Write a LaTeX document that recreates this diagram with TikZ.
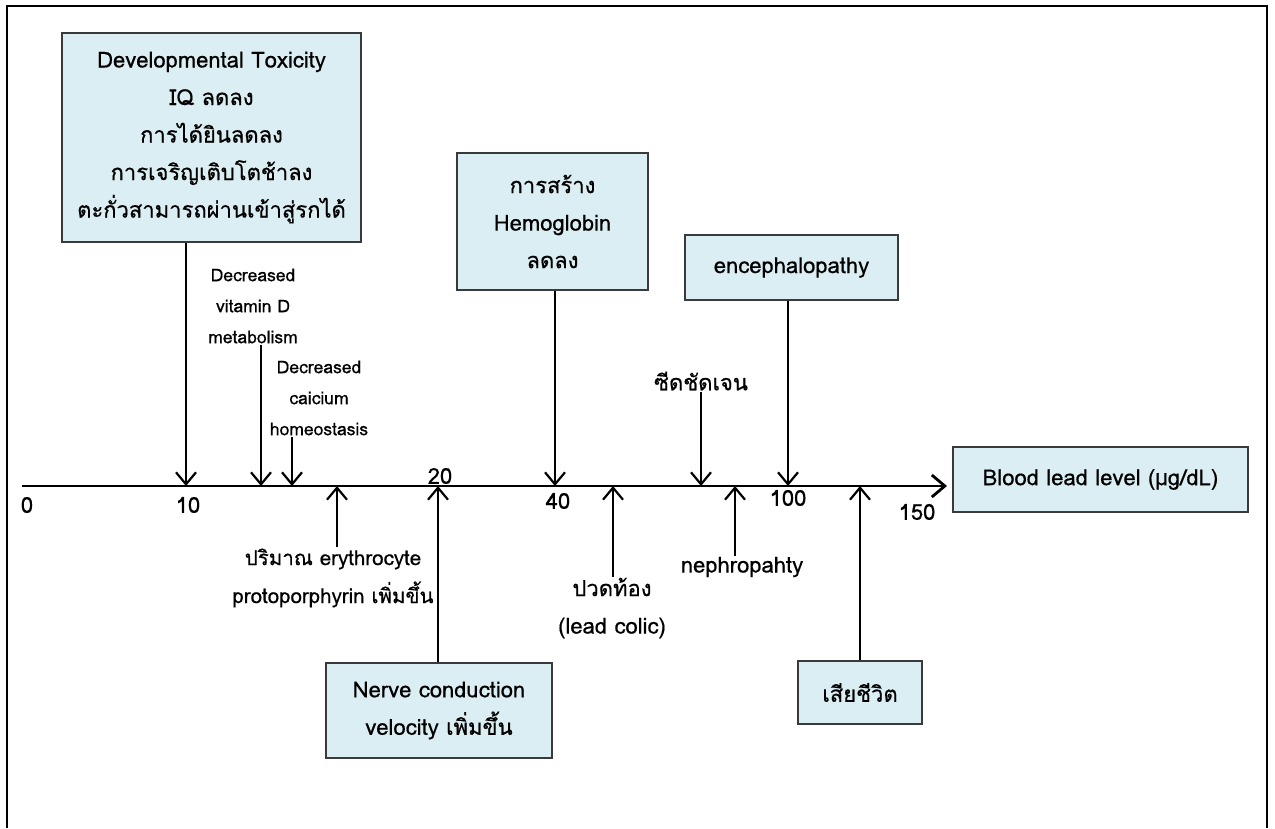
\documentclass[tikz,border=0pt]{standalone}
\usepackage{fontspec}
\setmainfont[Script=Thai,FakeBold=0.6]{Loma}
\usetikzlibrary{arrows.meta}
\definecolor{boxfill}{HTML}{DAEEF3}
\definecolor{boxline}{HTML}{3A3A3A}
\begin{document}
\begin{tikzpicture}[x=1pt,y=-1pt,
  box/.style={draw=boxline, line width=1.3pt, fill=boxfill, align=center, inner sep=0pt},
  big/.style={font=\fontsize{22}{37.5}\selectfont},
  mid/.style={font=\fontsize{20.5}{38}\selectfont},
  small/.style={font=\fontsize{17.5}{31}\selectfont},
  lbl/.style={align=center, inner sep=1pt},
  arr/.style={line width=2.2pt, -{Straight Barb[length=12pt,width=20pt]}},
  axisline/.style={line width=2.8pt, -{Straight Barb[length=13pt,width=22pt]}},
]
\useasboundingbox (0,0) rectangle (1275,828);
% outer frame (open at bottom)
\draw[line width=1.6pt] (7,828) -- (7,6) -- (1267,6) -- (1267,828);

% axis
\coordinate (ax0) at (22,486);
\coordinate (axend) at (947,486);
\draw[axisline] (ax0) -- (axend);

% axis points
\foreach \n/\x in {t1/186,t2/261,t3/292,u1/337,u2/438,t4/555,u3/613,t5/701,u4/735,t6/788,u5/860}
  \coordinate (\n) at (\x,486);

% tick labels
\node[big] (k0) at (27,505) {0};
\node[big] (k10) at (188,505) {10};
\node[big] (k20) at (440,476) {20};
\node[big] (k40) at (558,501) {40};
\node[big] (k100) at (788,498) {100};
\node[big] (k150) at (917,512) {150};

% boxes
\node[box,big,minimum width=299pt,minimum height=209pt] (dev) at (211.5,137.5)
  {Developmental Toxicity\\IQ ลดลง\\การได้ยินลดลง\\การเจริญเติบโตช้าลง\\ตะกั่วสามารถผ่านเข้าสู่รกได้};
\node[box,big,minimum width=191pt,minimum height=137pt] (hb) at (552.5,221.5)
  {การสร้าง\\Hemoglobin\\ลดลง};
\node[box,big,minimum width=213pt,minimum height=65pt] (ence) at (791.5,267.5)
  {encephalopathy};
\node[box,big,minimum width=295pt,minimum height=65pt] (bll) at (1100.5,479.5)
  {Blood lead level (µg/dL)};
\node[box,big,minimum width=226pt,minimum height=95pt] (ncv) at (439,710.5)
  {Nerve conduction\\velocity เพิ่มขึ้น};
\node[box,big,minimum width=124pt,minimum height=63pt] (death) at (860,692.5)
  {เสียชีวิต};

% free labels
\node[lbl,small] (vitd) at (253,306) {Decreased\\vitamin D\\metabolism};
\node[lbl,small] (ca) at (319,398) {Decreased\\caicium\\homeostasis};
\node[lbl,big] (pale) at (701,381) {ซีดชัดเจน};
\node[lbl,mid] (ep) at (333,578) {ปริมาณ erythrocyte\\protoporphyrin เพิ่มขึ้น};
\node[lbl,big] (colic) at (612,608) {ปวดท้อง\\(lead colic)};
\node[lbl,big] (neph) at (742,567) {nephropahty};

% connectors from above
\draw[arr] (dev.south -| t1) -- (t1);
\draw[arr] (vitd.south -| t2) -- (t2);
\draw[arr] (ca.south -| t3) -- (t3);
\draw[arr] (hb.south -| t4) -- (t4);
\draw[arr] (pale.south -| t5) -- (t5);
\draw[arr] (ence.south -| t6) -- (t6);
% connectors from below
\draw[arr] (ep.north -| u1) -- (u1);
\draw[arr] (ncv.north -| u2) -- (u2);
\draw[arr] (colic.north -| u3) -- (u3);
\draw[arr] (neph.north -| u4) -- (u4);
\draw[arr] (death.north -| u5) -- (u5);
\end{tikzpicture}
\end{document}
